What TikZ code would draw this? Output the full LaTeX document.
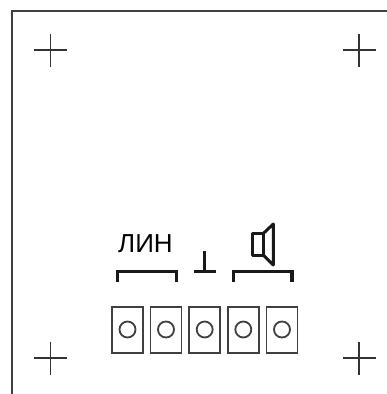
\documentclass[tikz,border=0pt]{standalone}
\usepackage{fontspec}
\setmainfont{Liberation Sans}
\tikzset{
  cross/.style={draw=black!80,line width=1.8pt},
  frameline/.style={draw=black!75,line width=2pt},
  clip box/.style={draw=black!75,line width=1.8pt,minimum width=31pt,minimum height=46.5pt,inner sep=0pt},
  clip hole/.style={circle,draw=black!75,line width=1.8pt,minimum size=16pt,inner sep=0pt},
  brace/.style={draw=black!90,line width=3.2pt},
  sign/.style={draw=black!90,line width=3pt}
}
\begin{document}
\begin{tikzpicture}[x=1pt,y=-1pt]
\useasboundingbox (0,0) rectangle (387,394);
\draw[frameline](11.5,394)--(11.5,11)--(387,11);
\foreach \cx in {50.5,359}
  \foreach \cy in {50,358}
    \draw[cross](\cx-16.5,\cy)--(\cx+16.5,\cy)(\cx,\cy-16.5)--(\cx,\cy+16.5);
\foreach \n/\cx in {1/127.5,2/166,3/204.7,4/243.3,5/282}{
  \node[clip box] (box\n) at (\cx,330) {};
  \node[clip hole] (hole\n) at (\cx,329.5) {};
}
\node[inner sep=0pt,font=\fontsize{26}{26}\selectfont] (lin) at (145.5,243.5) {ЛИН};
\draw[brace](117.5,282)--(117.5,271.5)--(176.7,271.5)--(176.7,282);
\draw[brace](233.5,282)--(233.5,271.5)--(292,271.5)--(292,282);
\draw[sign](194,271.5)--(216,271.5)(204.7,271.5)--(204.7,250.5);
\draw[sign,line join=round](252.8,233.5) rectangle (263.3,255);
\draw[sign,line join=round](263.3,233.5)--(273.3,224)--(273.3,265)--(263.3,255);
\end{tikzpicture}
\end{document}
